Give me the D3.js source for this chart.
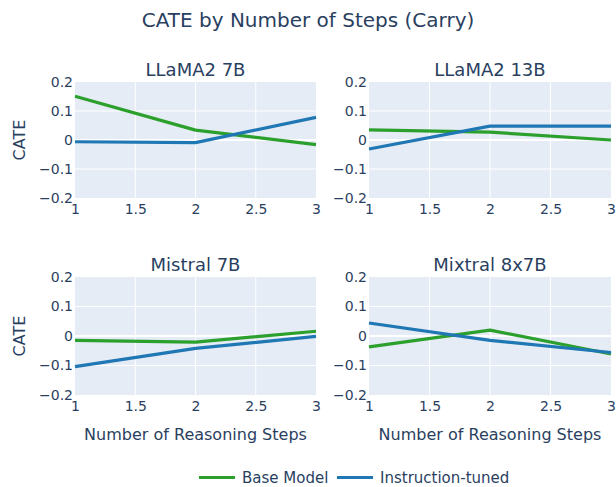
<!DOCTYPE html>
<html>
<head>
<meta charset="utf-8">
<script src="https://cdn.jsdelivr.net/npm/d3@7"></script>
<style>
  body { margin: 0; background: #fff; }
  text { font-family: "DejaVu Sans", Verdana, sans-serif; fill: #2a3f5f; }
</style>
</head>
<body>
<svg id="chart" width="616" height="487"></svg>
<script>
// values
var steps = [1, 2, 3];
var panelNames = ["LLaMA2 7B", "LLaMA2 13B", "Mistral 7B", "Mixtral 8x7B"];
var baseModel = [
  [0.151, 0.034, -0.016],
  [0.035, 0.027, 0.0],
  [-0.015, -0.021, 0.016],
  [-0.037, 0.020, -0.061]
];
var instructTuned = [
  [-0.006, -0.009, 0.078],
  [-0.031, 0.048, 0.048],
  [-0.104, -0.042, -0.001],
  [0.044, -0.015, -0.056]
];
var xTicks = [1, 1.5, 2, 2.5, 3];
var yTicks = [-0.2, -0.1, 0, 0.1, 0.2];
var seriesNames = ["Base Model", "Instruction-tuned"];
var seriesColors = ["#2ca02c", "#1f77b4"];

var svg = d3.select("#chart");

var Cols_ = [{x0: 75, x1: 316}, {x0: 369, x1: 611}];
var Rows_ = [{y0: 82, y1: 198}, {y0: 277, y1: 395}];

var fmtY = function(d) { return d === 0 ? "0" : d3.format(".1f")(d).replace("-", "\u2212"); };
var fmtX = function(d) { return String(d); };

svg.append("text")
  .attr("x", 308).attr("y", 27)
  .attr("text-anchor", "middle")
  .style("font-size", "20px")
  .text("CATE by Number of Steps (Carry)");

panelNames.forEach(function(name, i) {
  var c = Cols_[i % 2], r = Rows_[Math.floor(i / 2)];
  var x = d3.scaleLinear().domain([1, 3]).range([c.x0, c.x1]);
  var y = d3.scaleLinear().domain([-0.2, 0.2]).range([r.y1, r.y0]);
  var g = svg.append("g").attr("class", "panel p-" + i);

  g.append("rect")
    .attr("x", c.x0).attr("y", r.y0)
    .attr("width", c.x1 - c.x0).attr("height", r.y1 - r.y0)
    .attr("fill", "#e5ecf6");

  g.selectAll(".vgrid").data(xTicks.slice(1, -1)).enter().append("line")
    .attr("x1", function(d) { return x(d); }).attr("x2", function(d) { return x(d); })
    .attr("y1", r.y0).attr("y2", r.y1)
    .attr("stroke", "#fff").attr("stroke-width", 1);
  g.selectAll(".hgrid").data(yTicks.slice(1, -1)).enter().append("line")
    .attr("x1", c.x0).attr("x2", c.x1)
    .attr("y1", function(d) { return y(d); }).attr("y2", function(d) { return y(d); })
    .attr("stroke", "#fff").attr("stroke-width", function(d) { return d === 0 ? 2 : 1; });

  // axes through d3, then strip lines so only labels remain
  var ax = g.append("g")
    .attr("transform", "translate(0," + r.y1 + ")")
    .call(d3.axisBottom(x).tickValues(xTicks).tickFormat(fmtX).tickSize(0).tickPadding(6));
  var ay = g.append("g")
    .attr("transform", "translate(" + c.x0 + ",0)")
    .call(d3.axisLeft(y).tickValues(yTicks).tickFormat(fmtY).tickSize(0).tickPadding(2));
  [ax, ay].forEach(function(a) {
    a.select(".domain").remove();
    a.selectAll("text").style("font-size", "14px").attr("fill", "#2a3f5f")
      .style("font-family", "'DejaVu Sans', Verdana, sans-serif");
  });

  var line = d3.line()
    .x(function(d, k) { return x(steps[k]); })
    .y(function(d) { return y(d); });
  [baseModel[i], instructTuned[i]].forEach(function(vals, s) {
    g.append("path")
      .datum(vals)
      .attr("d", line)
      .attr("fill", "none")
      .attr("stroke", seriesColors[s])
      .attr("stroke-width", 3.2)
      .attr("stroke-linejoin", "round");
  });

  g.append("text")
    .attr("x", (c.x0 + c.x1) / 2).attr("y", r.y0 - 6)
    .attr("text-anchor", "middle")
    .style("font-size", "18px")
    .text(name);

  if (i % 2 === 0) {
    g.append("text")
      .attr("transform", "translate(25," + (r.y0 + r.y1) / 2 + ") rotate(-90)")
      .attr("text-anchor", "middle")
      .style("font-size", "16px")
      .text("CATE");
  }
  if (i >= 2) {
    g.append("text")
      .attr("x", (c.x0 + c.x1) / 2).attr("y", 440)
      .attr("text-anchor", "middle")
      .style("font-size", "16px")
      .text("Number of Reasoning Steps");
  }
});

// legend
var leg = svg.append("g").attr("class", "legend");
var legX = [199, 337];
seriesNames.forEach(function(n, s) {
  leg.append("line")
    .attr("x1", legX[s]).attr("x2", legX[s] + 36)
    .attr("y1", 477.5).attr("y2", 477.5)
    .attr("stroke", seriesColors[s]).attr("stroke-width", 3.2);
  leg.append("text")
    .attr("x", legX[s] + 43).attr("y", 483)
    .style("font-size", "15px")
    .text(n);
});
</script>
</body>
</html>
